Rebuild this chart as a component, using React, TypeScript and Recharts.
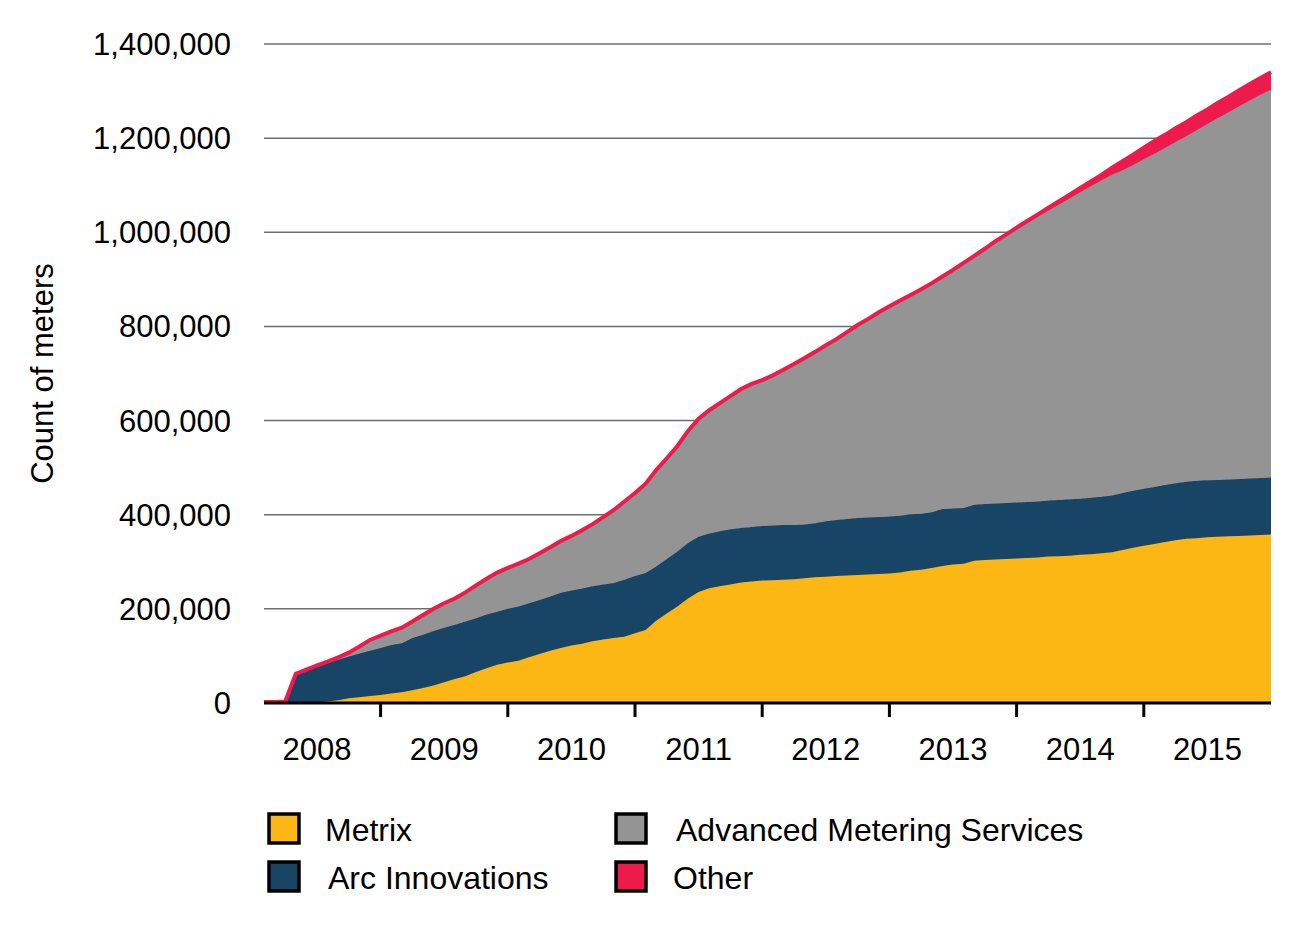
import { AreaChart, Area, XAxis, YAxis, CartesianGrid, Label } from 'recharts'

// monthly counts of installed meters, Jan 2008 .. Dec 2015
const years = ['2008', '2009', '2010', '2011', '2012', '2013', '2014', '2015']

const metrix = [
    0, 0, 0, 0, 500, 1000, 3000, 6000, 10000, 12000, 15000, 17000,
    20000, 23000, 27000, 32000, 37000, 44000, 51000, 57000, 66000, 74000, 81000, 86000,
    90000, 97000, 104000, 111000, 117000, 122000, 126000, 131000, 135000, 138000, 141000, 148000,
    155000, 175000, 190000, 205000, 222000, 236000, 244000, 248000, 252000, 256000, 258000, 260000,
    261000, 262000, 263000, 265000, 267000, 268000, 270000, 271000, 272000, 273000, 274000, 275000,
    277000, 281000, 283000, 287000, 291000, 294000, 296000, 302000, 304000, 305000, 306000, 307000,
    308000, 309000, 311000, 312000, 313000, 315000, 316000, 318000, 320000, 325000, 330000, 334000,
    338000, 342000, 346000, 349000, 350000, 352000, 353000, 354000, 355000, 356000, 357000, 358000,
]

const arc = [
    0, 0, 0, 60000, 68500, 77000, 82000, 86000, 89000, 93000, 96000, 100000,
    103000, 104000, 111000, 113000, 116000, 116000, 115000, 116000, 114000, 114000, 113000, 114000,
    115000, 115000, 115000, 115000, 117000, 117000, 117000, 117000, 117000, 117000, 121000, 122000,
    121000, 115000, 116000, 117000, 118000, 117000, 116000, 117000, 117000, 116000, 116000, 116000,
    116000, 116000, 115000, 114000, 115000, 118000, 119000, 120000, 121000, 121000, 121000, 121000,
    121000, 120000, 119000, 118000, 121000, 119000, 118000, 119000, 119000, 119000, 119000, 119000,
    119000, 119000, 119000, 119000, 120000, 119000, 120000, 120000, 121000, 121000, 121000, 121000,
    121000, 121000, 121000, 121000, 122000, 121000, 121000, 121000, 121000, 121000, 121000, 121000,
]

const ams = [
    0, 0, 0, 0, 0, 0, 1000, 3000, 6000, 13000, 21000, 24000,
    27000, 31000, 33000, 40000, 45000, 50000, 54000, 60000, 68000, 74000, 81000, 85000,
    89000, 92000, 97000, 103000, 108000, 114000, 122000, 130000, 141000, 153000, 164000, 174000,
    188000, 203000, 212000, 222000, 236000, 249000, 260000, 270000, 281000, 293000, 302000, 308000,
    317000, 328000, 340000, 352000, 362000, 372000, 382000, 395000, 408000, 420000, 433000, 445000,
    455000, 463000, 474000, 484000, 491000, 504000, 518000, 526000, 539000, 554000, 567000, 580000,
    592000, 605000, 616000, 628000, 639000, 651000, 662000, 672000, 681000, 686000, 692000, 700000,
    708000, 716000, 725000, 734000, 745000, 757000, 769000, 780000, 792000, 803000, 814000, 824000,
]

const other = [
    2000, 2000, 3000, 2000, 2000, 2000, 2000, 2000, 2000, 2000, 2000, 2000,
    2000, 2000, 2000, 2000, 2000, 2000, 2000, 2000, 2000, 2000, 2000, 2000,
    2000, 2000, 2000, 2000, 2000, 2000, 2000, 2000, 2000, 2000, 2000, 2000,
    2000, 2000, 2000, 2000, 2000, 2000, 2000, 2000, 2000, 2000, 2000, 2000,
    2000, 2000, 2000, 2000, 2000, 2000, 2000, 2000, 2000, 2000, 2000, 2000,
    2000, 3000, 3000, 3000, 3000, 3000, 3000, 3000, 3000, 3000, 3000, 4000,
    5000, 5000, 6000, 7000, 8000, 9000, 10000, 12000, 15000, 19000, 22000, 25000,
    27000, 28000, 29000, 30000, 31000, 31000, 32000, 33000, 34000, 35000, 36000, 37000,
]

const yTicks = [0, 200000, 400000, 600000, 800000, 1000000, 1200000, 1400000]

const COLORS = {
    metrix: '#FDB714',
    arc: '#184466',
    ams: '#949494',
    other: '#EE1A4B',
}

const data = metrix.map((v, i) => ({
    i,
    metrix: v,
    arc: arc[i],
    ams: ams[i],
    other: other[i],
}))

// year boundaries (December points) get tick marks, labels sit mid-year
const yearMid = years.map((_, k) => 5 + 12 * k)
const yearEdge = years.slice(1).map((_, k) => 11 + 12 * k)

const FONT = '"Liberation Sans", Arial, sans-serif'

function YTitle({ viewBox }: any) {
    const x = viewBox.x + 45
    const y = viewBox.y + viewBox.height / 2
    return (
        <text x={x} y={y} transform={`rotate(-90 ${x} ${y})`} textAnchor="middle" fontSize={31} fill="#000">
            Count of meters
        </text>
    )
}

const legendItems = [
    { key: 'metrix', name: 'Metrix', bx: 261, by: 806, tx: 317, ty: 833 },
    { key: 'ams', name: 'Advanced Metering Services', bx: 608, by: 806, tx: 668, ty: 833 },
    { key: 'arc', name: 'Arc Innovations', bx: 261, by: 854, tx: 320, ty: 881 },
    { key: 'other', name: 'Other', bx: 608, by: 854, tx: 665, ty: 881 },
]

export default function App() {
    return (
        <div style={{ position: 'relative', width: 1285, height: 920, fontFamily: FONT }}>
            <AreaChart width={1285} height={770} data={data} margin={{ top: 36, right: 22, bottom: 0, left: 0 }}>
                <CartesianGrid vertical={false} stroke="#6e6e6e" strokeWidth={1.5} />
                <XAxis
                    dataKey="i"
                    type="number"
                    domain={[0, 95]}
                    ticks={yearEdge}
                    interval={0}
                    tickFormatter={() => ''}
                    tickSize={14}
                    tickLine={{ stroke: '#000', strokeWidth: 3 }}
                    axisLine={{ stroke: '#000', strokeWidth: 3 }}
                    height={15}
                />
                <XAxis
                    xAxisId="years"
                    dataKey="i"
                    type="number"
                    domain={[0, 95]}
                    ticks={yearMid}
                    interval={0}
                    tickFormatter={(v: number) => years[(v - 5) / 12]}
                    tickLine={false}
                    axisLine={false}
                    tickSize={0}
                    tickMargin={20}
                    height={60}
                    tick={{ fontSize: 31, fill: '#000' }}
                />
                <YAxis
                    width={256}
                    domain={[0, 1400000]}
                    ticks={yTicks}
                    interval={0}
                    tickFormatter={(v: number) => v.toLocaleString('en-US')}
                    axisLine={false}
                    tickLine={false}
                    tickSize={0}
                    tickMargin={33}
                    tick={{ fontSize: 31, fill: '#000' }}
                >
                    <Label content={YTitle} />
                </YAxis>
                <Area type="linear" dataKey="metrix" stackId="1" fill={COLORS.metrix} stroke={COLORS.metrix} strokeWidth={1} fillOpacity={1} isAnimationActive={false} />
                <Area type="linear" dataKey="arc" stackId="1" fill={COLORS.arc} stroke={COLORS.arc} strokeWidth={1} fillOpacity={1} isAnimationActive={false} />
                <Area type="linear" dataKey="ams" stackId="1" fill={COLORS.ams} stroke={COLORS.ams} strokeWidth={1} fillOpacity={1} isAnimationActive={false} />
                <Area type="linear" dataKey="other" stackId="1" fill={COLORS.other} stroke={COLORS.other} strokeWidth={4} fillOpacity={1} isAnimationActive={false} />
            </AreaChart>
            <svg width={1285} height={920} style={{ position: 'absolute', left: 0, top: 0, pointerEvents: 'none' }}>
                {legendItems.map((it) => (
                    <g key={it.key}>
                        <rect x={it.bx} y={it.by} width={30} height={29} fill={(COLORS as any)[it.key]} stroke="#000" strokeWidth={3.5} />
                        <text x={it.tx} y={it.ty} fontSize={32} fill="#000">{it.name}</text>
                    </g>
                ))}
            </svg>
        </div>
    )
}
